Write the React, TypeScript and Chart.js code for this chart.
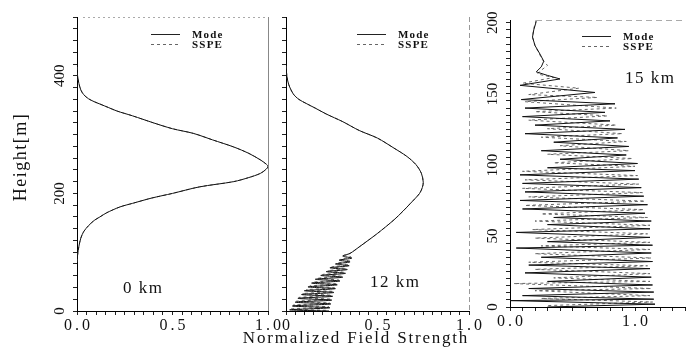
import React, { useEffect, useRef } from "react";
import { Chart, registerables } from "chart.js";

Chart.register(...registerables);

const W = 689;
const H = 353;

// ---------- text ----------
const seriesNames = ["Mode", "SSPE"];
const panelNames = ["0 km", "12 km", "15 km"];
const xAxisTitle = "Normalized Field Strength";
const yAxisTitle = "Height[m]";

// ---------- tick labels ----------
const xTickValues12 = [0, 0.5, 1.0];
const xTickText1 = ["0.0", "0.5", "1.0"];
const xTickText2 = ["0", "0.5", "1.0"];
const yTickLabels12 = [0, 200, 400];
const xTickValues3 = [0, 1.0];
const xTickText3 = ["0.0", "1.0"];
const yTickLabels3 = [0, 50, 100, 150, 200];

// ---------- 0 km (Mode and SSPE coincide) ----------
const km0ModeX = [0, 0.003, 0.01, 0.02, 0.035, 0.06, 0.09, 0.12, 0.165, 0.21, 0.29, 0.40, 0.50, 0.61, 0.71, 0.82, 0.90, 0.96, 0.99, 1.0, 0.99, 0.96, 0.90, 0.82, 0.64, 0.50, 0.39, 0.29, 0.225, 0.155, 0.12, 0.09, 0.06, 0.035, 0.02, 0.01, 0.003, 0];
const km0ModeH = [415, 400, 387, 376, 368, 361, 356, 352, 346, 340, 332, 320, 310, 302, 291, 279, 268, 257, 250, 246, 241, 234, 227, 220, 211, 200, 192, 183, 177, 167, 160, 154, 145, 135, 124, 110, 95, 81];
const km0SspeX = [0, 0.003, 0.01, 0.02, 0.035, 0.06, 0.09, 0.12, 0.165, 0.21, 0.29, 0.40, 0.50, 0.61, 0.71, 0.82, 0.90, 0.96, 0.99, 1.0, 0.99, 0.96, 0.90, 0.82, 0.64, 0.50, 0.39, 0.29, 0.225, 0.155, 0.12, 0.09, 0.06, 0.035, 0.02, 0.01, 0.003, 0];
const km0SspeH = [415, 400, 387, 376, 368, 361, 356, 352, 346, 340, 332, 320, 310, 302, 291, 279, 268, 257, 250, 246, 241, 234, 227, 220, 211, 200, 192, 183, 177, 167, 160, 154, 145, 135, 124, 110, 95, 81];

// ---------- 12 km ----------
const km12ModeX = [0, 0.005, 0.015, 0.04, 0.07, 0.11, 0.16, 0.22, 0.31, 0.40, 0.50, 0.59, 0.66, 0.71, 0.74, 0.75, 0.745, 0.73, 0.68, 0.64, 0.59, 0.50, 0.40, 0.35,
  0.31, 0.36, 0.29, 0.35, 0.27, 0.345, 0.24, 0.335, 0.22, 0.325, 0.19, 0.31, 0.16, 0.295, 0.14, 0.28, 0.12, 0.27, 0.10, 0.262, 0.085, 0.255, 0.065, 0.25, 0.05, 0.245, 0.035, 0.24, 0.02, 0.235];
const km12ModeH = [417, 399, 385, 369, 360, 353, 345, 335, 322, 307, 294, 277, 263, 249, 234, 219, 210, 200, 183, 170, 155, 132, 109, 98,
  93.5, 90, 86.5, 83.5, 80, 77, 73.5, 70.5, 67, 64, 60.5, 57.5, 54, 51, 47.5, 44.5, 41, 38, 34.5, 31.5, 28, 25, 21.5, 18.5, 15, 12, 8.5, 5.5, 2, 0];
const km12SspeX = [0, 0.005, 0.015, 0.04, 0.07, 0.11, 0.16, 0.22, 0.31, 0.40, 0.50, 0.59, 0.66, 0.71, 0.74, 0.75, 0.745, 0.73, 0.68, 0.64, 0.59, 0.50, 0.40, 0.35,
  0.32, 0.355, 0.30, 0.35, 0.28, 0.34, 0.25, 0.33, 0.23, 0.32, 0.20, 0.305, 0.17, 0.29, 0.15, 0.28, 0.13, 0.265, 0.11, 0.26, 0.09, 0.25, 0.07, 0.245, 0.055, 0.24, 0.04, 0.235, 0.025, 0.23];
const km12SspeH = [417, 399, 385, 369, 360, 353, 345, 335, 322, 307, 294, 277, 263, 249, 234, 219, 210, 200, 183, 170, 155, 132, 109, 98,
  95, 92, 88, 85, 81.5, 78.5, 75, 72, 68.5, 65.5, 62, 59, 55.5, 52.5, 49, 46, 42.5, 39.5, 36, 33, 29.5, 26.5, 23, 20, 16.5, 13.5, 10, 7, 3.5, 1];

// ---------- 15 km ----------
const km15ModeX = [0.21, 0.19, 0.18, 0.2, 0.24, 0.27, 0.25, 0.21, 0.3, 0.4,
  0.08, 0.68, 0.09, 0.84, 0.12, 0.76, 0.1, 0.8, 0.2, 0.92, 0.12, 0.86, 0.35, 0.95, 0.25, 0.93, 0.4, 1.02, 0.3, 1.0,
  0.08, 1.03, 0.1, 1.05, 0.12, 1.07, 0.08, 1.1, 0.1, 1.08, 0.35, 1.13, 0.3, 1.12, 0.05, 1.12, 0.3, 1.14, 0.05, 1.13,
  0.25, 1.14, 0.15, 1.12, 0.12, 1.13, 0.3, 1.14, 0.15, 1.15, 0.1, 1.15, 0.0, 1.16, 0.3];
const km15ModeH = [201, 195, 190, 184, 178, 173, 169, 165.5, 163, 160.5,
  156, 151, 146, 143, 140, 137, 134, 131, 128, 125, 122, 119, 116, 113, 110, 107, 104, 101, 98, 96,
  93, 90, 87, 84, 81, 78, 75, 72, 69, 66, 63, 60.5, 58, 55, 52.5, 49, 46, 43.5, 41.5, 38,
  35, 32, 29.5, 27, 24, 21, 18, 15.5, 13, 10.5, 8, 5.5, 4.5, 2, 0];
const km15SspeX = [0.21, 0.19, 0.18, 0.2, 0.23, 0.26, 0.3, 0.24, 0.22, 0.35,
  0.1, 0.55, 0.15, 0.7, 0.12, 0.85, 0.2, 0.78, 0.15, 0.85, 0.3, 0.9, 0.25, 0.93, 0.4, 0.95, 0.3, 0.98, 0.35, 1.0,
  0.1, 1.02, 0.12, 1.03, 0.1, 1.06, 0.15, 1.08, 0.12, 1.07, 0.25, 1.1, 0.2, 1.12, 0.18, 1.1, 0.2, 1.12, 0.25, 1.12,
  0.2, 1.13, 0.15, 1.1, 0.2, 1.12, 0.35, 1.12, 0.03, 1.13, 0.2, 1.12, 0.25, 1.14, 0.3];
const km15SspeH = [202, 196, 190, 184, 179, 174, 170, 166, 164, 161.5,
  157.5, 154, 149.5, 147.5, 144.5, 140, 137.5, 134.5, 131.5, 128, 125.5, 122, 119.5, 116.5, 113.5, 110, 107.5, 104.5, 101.5, 99,
  95.5, 92.5, 89.5, 86.5, 83.5, 80.5, 77.5, 74.5, 71.5, 68.5, 65.5, 63, 60.5, 57.5, 54.5, 51.5, 48.5, 45.5, 43, 40.5,
  37.5, 34.5, 31.5, 29, 26.5, 23.5, 20.5, 18, 16.5, 13, 11.5, 8, 6, 3.5, 1];

// ---------- layout (positions / styles) ----------
type Panel = {
  modeX: number[]; modeH: number[]; sspeX: number[]; sspeH: number[];
  xMax: number; xStep: number; yMax: number; yStep: number;
  xTicks: number[]; xText: string[]; yLabels: number[];
  area: { left: number; right: number; top: number; bottom: number };
  tension: number;
  legend: { x: number; y: number };
  name: string; nameAt: { x: number; y: number };
  right: "solid" | "dashed" | null; top: "dotted" | "dashed" | null; topFrom: number;
  titles: boolean;
};

const panels: Panel[] = [
  {
    modeX: km0ModeX, modeH: km0ModeH, sspeX: km0SspeX, sspeH: km0SspeH,
    xMax: 1, xStep: 0.05, yMax: 500, yStep: 20, xTicks: xTickValues12, xText: xTickText1, yLabels: yTickLabels12,
    area: { left: 77, right: 268, top: 17, bottom: 311 }, tension: 0.3,
    legend: { x: 151, y: 34 }, name: panelNames[0], nameAt: { x: 123, y: 293 },
    right: "solid", top: "dotted", topFrom: 6, titles: true,
  },
  {
    modeX: km12ModeX, modeH: km12ModeH, sspeX: km12SspeX, sspeH: km12SspeH,
    xMax: 1, xStep: 0.05, yMax: 500, yStep: 20, xTicks: xTickValues12, xText: xTickText2, yLabels: [],
    area: { left: 286, right: 469, top: 17, bottom: 311 }, tension: 0.3,
    legend: { x: 357, y: 34 }, name: panelNames[1], nameAt: { x: 370, y: 287 },
    right: "dashed", top: null, topFrom: 0, titles: false,
  },
  {
    modeX: km15ModeX, modeH: km15ModeH, sspeX: km15SspeX, sspeH: km15SspeH,
    xMax: 1.4, xStep: 0.1, yMax: 202, yStep: 5, xTicks: xTickValues3, xText: xTickText3, yLabels: yTickLabels3,
    area: { left: 510, right: 685, top: 20, bottom: 307 }, tension: 0,
    legend: { x: 582, y: 36 }, name: panelNames[2], nameAt: { x: 625, y: 83 },
    right: null, top: "dashed", topFrom: 26, titles: false,
  },
];

const SERIF = '"Liberation Serif", "DejaVu Serif", serif';

function setLS(ctx: any, px: number) {
  try { ctx.letterSpacing = px + "px"; } catch (e) { /* ignore */ }
}

function steps(max: number, step: number) {
  const out: { value: number }[] = [];
  for (let i = 0; i * step <= max + 1e-9; i++) out.push({ value: +(i * step).toFixed(4) });
  return out;
}

function overlay(p: Panel) {
  return {
    id: "overlay",
    afterDraw(chart: any) {
      const ctx: CanvasRenderingContext2D = chart.ctx;
      const a = chart.chartArea;
      const xs = chart.scales.x;
      const ys = chart.scales.y;
      ctx.save();
      ctx.lineWidth = 1;
      if (p.right) {
        ctx.strokeStyle = p.right === "solid" ? "#888" : "#999";
        ctx.setLineDash(p.right === "solid" ? [] : [5, 3]);
        ctx.beginPath();
        ctx.moveTo(a.right + 0.5, a.top);
        ctx.lineTo(a.right + 0.5, a.bottom);
        ctx.stroke();
      }
      if (p.top) {
        ctx.strokeStyle = "#aaa";
        ctx.setLineDash(p.top === "dotted" ? [2, 3] : [6, 4]);
        ctx.beginPath();
        ctx.moveTo(a.left + p.topFrom, a.top + 0.5);
        ctx.lineTo(a.right, a.top + 0.5);
        ctx.stroke();
      }
      ctx.setLineDash([]);
      ctx.fillStyle = "#111";
      // x tick labels
      ctx.font = "16px " + SERIF;
      setLS(ctx, 3);
      ctx.textAlign = "center";
      ctx.textBaseline = "alphabetic";
      p.xTicks.forEach((v, i) => {
        ctx.fillText(p.xText[i], xs.getPixelForValue(v) + 1.5, a.bottom + 19);
      });
      // y tick labels (rotated)
      ctx.font = "15px " + SERIF;
      setLS(ctx, 0);
      p.yLabels.forEach((v) => {
        ctx.save();
        ctx.translate(a.left - 17, ys.getPixelForValue(v));
        ctx.rotate(-Math.PI / 2);
        ctx.textAlign = "center";
        ctx.textBaseline = "middle";
        ctx.fillText(String(v), 0, 0);
        ctx.restore();
      });
      // legend
      ctx.font = "bold 11px " + SERIF;
      setLS(ctx, 1.2);
      ctx.textAlign = "left";
      ctx.textBaseline = "alphabetic";
      seriesNames.forEach((n, i) => {
        const y = p.legend.y + i * 10;
        ctx.strokeStyle = i === 0 ? "#222" : "#666";
        ctx.setLineDash(i === 0 ? [] : [3, 3]);
        ctx.beginPath();
        ctx.moveTo(p.legend.x, y + 0.5);
        ctx.lineTo(p.legend.x + 29, y + 0.5);
        ctx.stroke();
        ctx.fillText(n, p.legend.x + 41, y + 3.5);
      });
      ctx.setLineDash([]);
      // panel name
      ctx.font = "17px " + SERIF;
      setLS(ctx, 1.5);
      ctx.fillText(p.name, p.nameAt.x, p.nameAt.y);
      // axis titles
      if (p.titles) {
        ctx.font = "17px " + SERIF;
        setLS(ctx, 1.8);
        ctx.textAlign = "center";
        ctx.fillText(xAxisTitle, 356, 343);
        ctx.save();
        ctx.translate(26, 157);
        ctx.rotate(-Math.PI / 2);
        ctx.font = "18px " + SERIF;
        setLS(ctx, 1.5);
        ctx.textAlign = "center";
        ctx.textBaseline = "alphabetic";
        ctx.fillText(yAxisTitle, 0, 0);
        ctx.restore();
      }
      setLS(ctx, 0);
      ctx.restore();
    },
  };
}

function pts(xs: number[], hs: number[]) {
  return xs.map((x, i) => ({ x, y: hs[i] }));
}

function PanelChart({ p }: { p: Panel }) {
  const ref = useRef<HTMLCanvasElement>(null);
  useEffect(() => {
    const chart = new Chart(ref.current as HTMLCanvasElement, {
      type: "line",
      data: {
        datasets: [
          {
            label: seriesNames[0],
            data: pts(p.modeX, p.modeH),
            borderColor: "#111",
            borderWidth: 1,
            pointRadius: 0,
            tension: p.tension,
            fill: false,
          },
          {
            label: seriesNames[1],
            data: pts(p.sspeX, p.sspeH),
            borderColor: "#666",
            borderDash: [3, 3],
            borderWidth: 1,
            pointRadius: 0,
            tension: p.tension,
            fill: false,
          },
        ],
      },
      options: {
        animation: false,
        responsive: false,
        devicePixelRatio: 1,
        layout: { padding: { left: 0, right: W - p.area.right, top: p.area.top, bottom: 0 } },
        plugins: { legend: { display: false }, tooltip: { enabled: false } },
        scales: {
          x: {
            type: "linear",
            min: 0,
            max: p.xMax,
            border: { display: true, color: "#000", width: 1 },
            grid: { drawOnChartArea: false, drawTicks: true, tickLength: 4, color: "#222" },
            ticks: { display: false },
            afterBuildTicks: (s: any) => { s.ticks = steps(p.xMax, p.xStep); },
            afterFit: (s: any) => { s.height = H - p.area.bottom; },
          },
          y: {
            type: "linear",
            min: 0,
            max: p.yMax,
            border: { display: true, color: "#000", width: 1 },
            grid: { drawOnChartArea: false, drawTicks: true, tickLength: 4, color: "#222" },
            ticks: { display: false },
            afterBuildTicks: (s: any) => { s.ticks = steps(p.yMax, p.yStep); },
            afterFit: (s: any) => { s.width = p.area.left; },
          },
        },
      } as any,
      plugins: [overlay(p)],
    });
    return () => chart.destroy();
  }, []);
  return (
    <canvas
      ref={ref}
      width={W}
      height={H}
      style={{ position: "absolute", left: 0, top: 0, width: W, height: H }}
    />
  );
}

export default function App() {
  return (
    <div style={{ position: "fixed", left: 0, top: 0, width: W, height: H, background: "#fff", overflow: "hidden" }}>
      {panels.map((p, i) => (
        <PanelChart key={i} p={p} />
      ))}
    </div>
  );
}
